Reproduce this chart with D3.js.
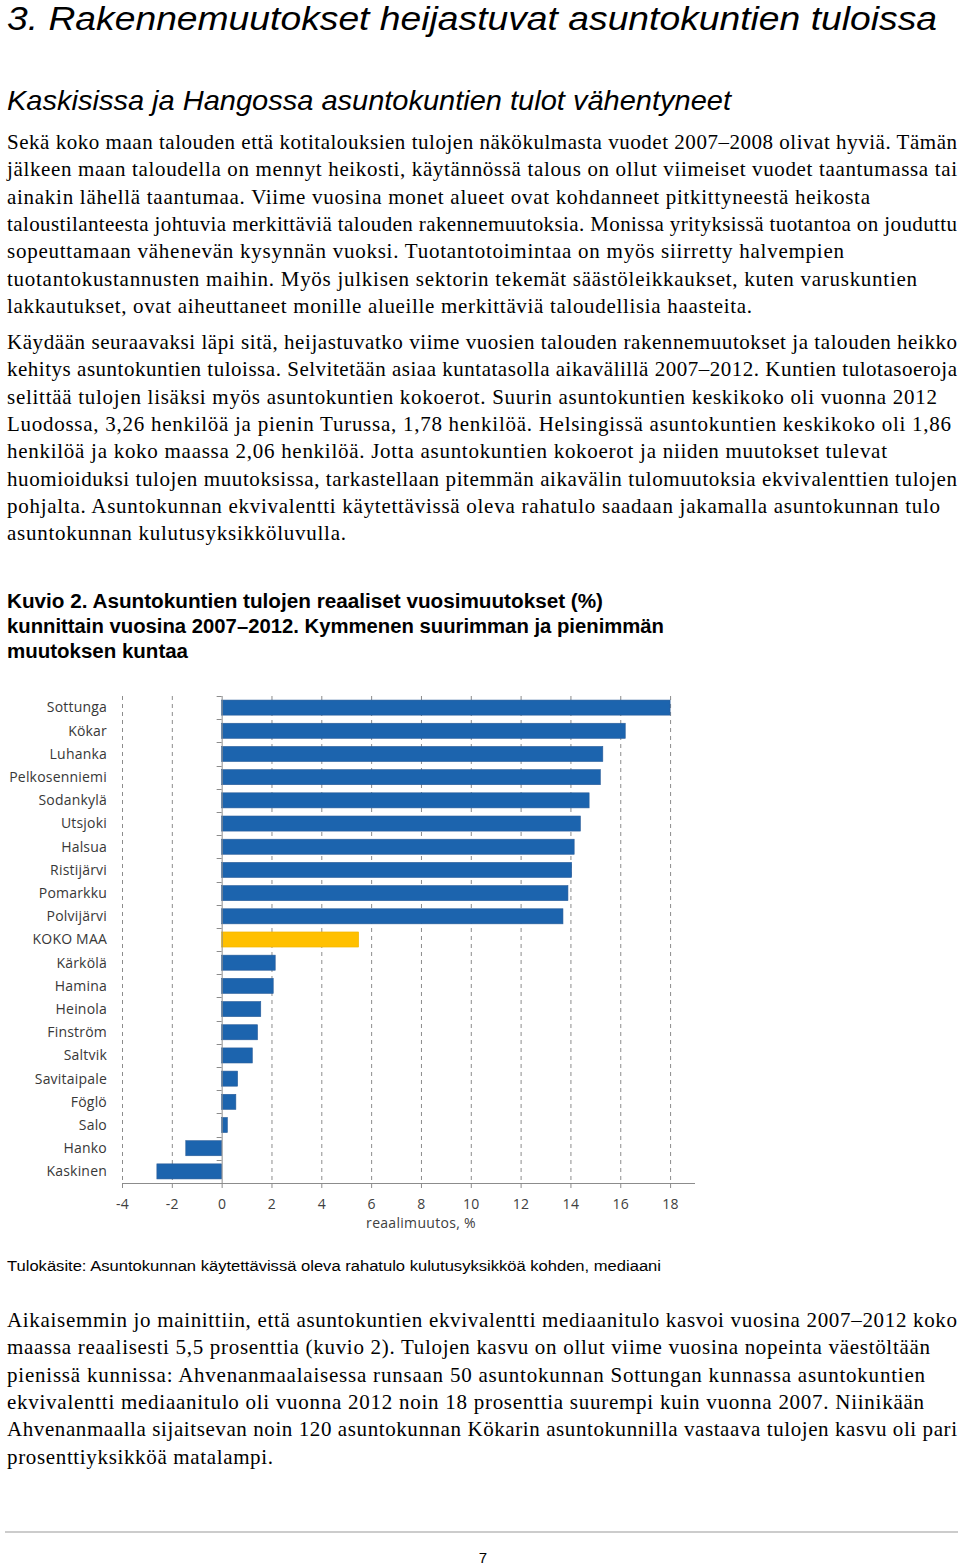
<!DOCTYPE html>
<html><head><meta charset="utf-8">
<script src="https://cdn.jsdelivr.net/npm/d3@7"></script>
<style>html,body{margin:0;padding:0;background:#fff;}svg{display:block;}</style>
</head><body>
<svg id="page" width="960" height="1565"></svg>
<script>
// ---- chart data ----
const categories = ["Sottunga","Kökar","Luhanka","Pelkosenniemi","Sodankylä","Utsjoki","Halsua","Ristijärvi","Pomarkku","Polvijärvi","KOKO MAA","Kärkölä","Hamina","Heinola","Finström","Saltvik","Savitaipale","Föglö","Salo","Hanko","Kaskinen"];
const values = [18.0,16.2,15.3,15.2,14.75,14.4,14.15,14.05,13.9,13.7,5.5,2.15,2.07,1.57,1.44,1.23,0.64,0.57,0.23,-1.44,-2.6];
const tickValues = [-4,-2,0,2,4,6,8,10,12,14,16,18];
const tickLabels = ["-4","-2","0","2","4","6","8","10","12","14","16","18"];
const axisTitle = "reaalimuutos, %";
const highlight = "KOKO MAA";

// ---- text ----
const title = "3. Rakennemuutokset heijastuvat asuntokuntien tuloissa";
const subtitle = "Kaskisissa ja Hangossa asuntokuntien tulot vähentyneet";
const para1 = [
 ["Sekä koko maan talouden että kotitalouksien tulojen näkökulmasta vuodet 2007–2008 olivat hyviä. Tämän", 950],
 ["jälkeen maan taloudella on mennyt heikosti, käytännössä talous on ollut viimeiset vuodet taantumassa tai", 950],
 ["ainakin lähellä taantumaa. Viime vuosina monet alueet ovat kohdanneet pitkittyneestä heikosta", 863],
 ["taloustilanteesta johtuvia merkittäviä talouden rakennemuutoksia. Monissa yrityksissä tuotantoa on jouduttu", 950],
 ["sopeuttamaan vähenevän kysynnän vuoksi. Tuotantotoimintaa on myös siirretty halvempien", 837],
 ["tuotantokustannusten maihin. Myös julkisen sektorin tekemät säästöleikkaukset, kuten varuskuntien", 910],
 ["lakkautukset, ovat aiheuttaneet monille alueille merkittäviä taloudellisia haasteita.", 745]
];
const para2 = [
 ["Käydään seuraavaksi läpi sitä, heijastuvatko viime vuosien talouden rakennemuutokset ja talouden heikko", 950],
 ["kehitys asuntokuntien tuloissa. Selvitetään asiaa kuntatasolla aikavälillä 2007–2012. Kuntien tulotasoeroja", 950],
 ["selittää tulojen lisäksi myös asuntokuntien kokoerot. Suurin asuntokuntien keskikoko oli vuonna 2012", 930],
 ["Luodossa, 3,26 henkilöä ja pienin Turussa, 1,78 henkilöä. Helsingissä asuntokuntien keskikoko oli 1,86", 944],
 ["henkilöä ja koko maassa 2,06 henkilöä. Jotta asuntokuntien kokoerot ja niiden muutokset tulevat", 880],
 ["huomioiduksi tulojen muutoksissa, tarkastellaan pitemmän aikavälin tulomuutoksia ekvivalenttien tulojen", 950],
 ["pohjalta. Asuntokunnan ekvivalentti käytettävissä oleva rahatulo saadaan jakamalla asuntokunnan tulo", 933],
 ["asuntokunnan kulutusyksikköluvulla.", 339]
];
const para3 = [
 ["Aikaisemmin jo mainittiin, että asuntokuntien ekvivalentti mediaanitulo kasvoi vuosina 2007–2012 koko", 950],
 ["maassa reaalisesti 5,5 prosenttia (kuvio 2). Tulojen kasvu on ollut viime vuosina nopeinta väestöltään", 923],
 ["pienissä kunnissa: Ahvenanmaalaisessa runsaan 50 asuntokunnan Sottungan kunnassa asuntokuntien", 918],
 ["ekvivalentti mediaanitulo oli vuonna 2012 noin 18 prosenttia suurempi kuin vuonna 2007. Niinikään", 917],
 ["Ahvenanmaalla sijaitsevan noin 120 asuntokunnan Kökarin asuntokunnilla vastaava tulojen kasvu oli pari", 950],
 ["prosenttiyksikköä matalampi.", 266]
];
const figTitle = [
 ["Kuvio 2. Asuntokuntien tulojen reaaliset vuosimuutokset (%)", 596],
 ["kunnittain vuosina 2007–2012. Kymmenen suurimman ja pienimmän", 657],
 ["muutoksen kuntaa", 181]
];
const note = "Tulokäsite: Asuntokunnan käytettävissä oleva rahatulo kulutusyksikköä kohden, mediaani";

const svg = d3.select("#page");
svg.append("rect").attr("width",960).attr("height",1565).attr("fill","#fff");

function fitText(sel, w, adjust){
  sel.each(function(){
    const n = this.getComputedTextLength();
    if (Math.abs(n - w) / w < 0.12) {
      d3.select(this).attr("textLength", w).attr("lengthAdjust", adjust || "spacing");
    }
  });
}

// headings
svg.append("text").attr("x",7).attr("y",30).attr("font-family","Liberation Sans, Arial, sans-serif")
  .attr("font-style","italic").attr("font-size",34).attr("fill","#000").text(title)
  .attr("textLength",930).attr("lengthAdjust","spacingAndGlyphs");
svg.append("text").attr("x",7).attr("y",110).attr("font-family","Liberation Sans, Arial, sans-serif")
  .attr("font-style","italic").attr("font-size",28).attr("fill","#000").text(subtitle)
  .attr("textLength",724).attr("lengthAdjust","spacingAndGlyphs");

function paragraph(lines, y0){
  lines.forEach((l,i)=>{
    const t = svg.append("text").attr("x",7).attr("y",y0 + i*27.3)
      .attr("font-family","'Liberation Serif', 'Times New Roman', serif")
      .attr("font-size",21).attr("fill","#000").text(l[0]);
    fitText(t, l[1]);
  });
}
paragraph(para1, 149);
paragraph(para2, 349);
paragraph(para3, 1327);

figTitle.forEach((l,i)=>{
  svg.append("text").attr("x",7).attr("y",608 + i*25)
    .attr("font-family","Liberation Sans, Arial, sans-serif").attr("font-weight","bold")
    .attr("font-size",20).attr("fill","#000").text(l[0])
    .attr("textLength",l[1]).attr("lengthAdjust","spacingAndGlyphs");
});

svg.append("text").attr("x",7).attr("y",1271)
  .attr("font-family","Liberation Sans, Arial, sans-serif").attr("font-size",15.5).attr("fill","#000")
  .text(note).attr("textLength",654).attr("lengthAdjust","spacingAndGlyphs");

// footer rule and page number
svg.append("line").attr("x1",5).attr("x2",958).attr("y1",1532).attr("y2",1532)
  .attr("stroke","#999").attr("stroke-width",1);
svg.append("text").attr("x",483).attr("y",1563).attr("text-anchor","middle")
  .attr("font-family","Liberation Sans, Arial, sans-serif").attr("font-size",15).text("7");

// ---- chart ----
const plotTop = 696, plotBottom = 1183;
const x = d3.scaleLinear().domain([-4,19]).range([122,695]);
const y = d3.scaleBand().domain(categories).range([plotTop, plotBottom]).paddingInner(0.35).paddingOuter(0.175);
const yEdges = d3.scaleLinear().domain([0,categories.length]).range([plotTop, plotBottom]);
const g = svg.append("g");

// gridlines
g.selectAll("line.grid").data(tickValues.filter(d=>d!==0)).join("line")
  .attr("class","grid").attr("x1",d=>x(d)+0.5).attr("x2",d=>x(d)+0.5)
  .attr("y1",plotTop).attr("y2",plotBottom)
  .attr("stroke","#8c8c8c").attr("stroke-width",1).attr("stroke-dasharray","4,4");

// bars
g.selectAll("rect.bar").data(categories).join("rect").attr("class","bar")
  .attr("x",(d,i)=>x(Math.min(0,values[i])))
  .attr("width",(d,i)=>Math.abs(x(values[i])-x(0)))
  .attr("y",d=>y(d)).attr("height",y.bandwidth())
  .attr("fill",d=>d===highlight?"#ffc000":"#1c64ae")
  .attr("stroke",d=>d===highlight?"#f0b400":"#2a5d99").attr("stroke-width",0.6);

// x axis
const xAxis = d3.axisBottom(x).tickValues(tickValues).tickSize(5).tickPadding(11)
  .tickFormat(d=>tickLabels[tickValues.indexOf(d)]);
const xg = svg.append("g").attr("transform",`translate(0,${plotBottom})`).call(xAxis);
xg.select(".domain").attr("stroke","#8c8c8c").attr("d",`M${x(-4)},0.5H${x(19)}`);
xg.selectAll(".tick line").attr("stroke","#8c8c8c");
xg.selectAll(".tick text").attr("font-family","'Open Sans', sans-serif").attr("font-size",14)
  .attr("fill","#404040").attr("letter-spacing","0.3px");
svg.append("text").attr("x",421).attr("y",1228).attr("text-anchor","middle")
  .attr("font-family","'Open Sans', sans-serif").attr("font-size",14).attr("letter-spacing","0.3px")
  .attr("fill","#404040").text(axisTitle);

// y axis line with tick marks at category boundaries
const ya = svg.append("g");
ya.append("line").attr("x1",x(0)+0.5).attr("x2",x(0)+0.5).attr("y1",plotTop).attr("y2",plotBottom)
  .attr("stroke","#8c8c8c");
ya.selectAll("line.yt").data(d3.range(categories.length+1)).join("line").attr("class","yt")
  .attr("x1",x(0)-5).attr("x2",x(0)).attr("y1",d=>Math.round(yEdges(d))+0.5).attr("y2",d=>Math.round(yEdges(d))+0.5)
  .attr("stroke","#8c8c8c");

// category labels
svg.append("g").selectAll("text").data(categories).join("text")
  .attr("x",107).attr("y",d=>y(d)+y.bandwidth()/2).attr("dy","0.35em")
  .attr("text-anchor","end").attr("font-family","'Open Sans', sans-serif").attr("font-size",14)
  .attr("letter-spacing","0.2px").attr("fill","#383838").text(d=>d);
</script>
</body></html>
